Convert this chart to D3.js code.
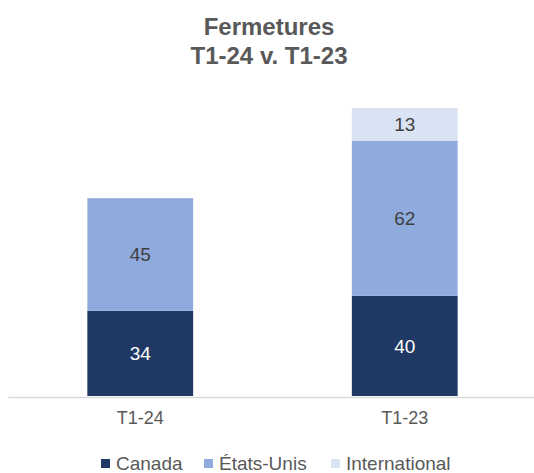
<!DOCTYPE html>
<html>
<head>
<meta charset="utf-8">
<script src="https://cdn.jsdelivr.net/npm/d3@7"></script>
<style>
  body { margin: 0; background: #fff; }
  text { font-family: Arial, "Liberation Sans", sans-serif; }
</style>
</head>
<body>
<div id="chart"></div>
<script>
// data
const categories = ["T1-24", "T1-23"];
const seriesNames = ["Canada", "États-Unis", "International"];
const canada = [34, 40];
const etatsUnis = [45, 62];
const international = [null, 13];

const colors = ["#1f3864", "#8faadc", "#dae3f3"];
const labelColors = ["#ffffff", "#404040", "#404040"];

const width = 534, height = 473;

// table for the stack
const rows = categories.map((c, i) => ({
  cat: c,
  "Canada": canada[i] || 0,
  "États-Unis": etatsUnis[i] || 0,
  "International": international[i] || 0
}));

const stack = d3.stack().keys(seriesNames)(rows);

const svg = d3.select("#chart")
  .append("svg")
  .attr("width", width)
  .attr("height", height);

// title
svg.append("text")
  .attr("x", width / 2 + 2)
  .attr("y", 35)
  .attr("text-anchor", "middle")
  .style("font-size", "24px")
  .style("font-weight", "bold")
  .style("fill", "#595959")
  .text("Fermetures");
svg.append("text")
  .attr("x", width / 2 + 2)
  .attr("y", 64)
  .attr("text-anchor", "middle")
  .style("font-size", "24px")
  .style("font-weight", "bold")
  .style("fill", "#595959")
  .text("T1-24 v. T1-23");

// scales
const x = d3.scaleBand()
  .domain(categories)
  .range([8, 537])
  .paddingInner(0.6)
  .paddingOuter(0.3);

const y = d3.scaleLinear()
  .domain([0, 115])
  .range([396, 108]);

// bars
const layers = svg.selectAll(".layer")
  .data(stack)
  .join("g")
  .attr("class", "layer")
  .attr("fill", (d, i) => colors[i]);

layers.selectAll("rect")
  .data(d => d.filter(p => p[1] - p[0] > 0))
  .join("rect")
  .attr("x", d => x(d.data.cat))
  .attr("width", x.bandwidth())
  .attr("y", d => y(d[1]))
  .attr("height", d => y(d[0]) - y(d[1]));

// data labels
stack.forEach((s, i) => {
  svg.append("g")
    .selectAll("text")
    .data(s.filter(p => p[1] - p[0] > 0))
    .join("text")
    .attr("x", d => x(d.data.cat) + x.bandwidth() / 2)
    .attr("y", d => (y(d[0]) + y(d[1])) / 2)
    .attr("dy", "0.36em")
    .attr("text-anchor", "middle")
    .style("font-size", "19px")
    .style("fill", labelColors[i])
    .text(d => d[1] - d[0]);
});

// x axis
const xAxis = svg.append("g")
  .attr("transform", "translate(0,397)")
  .call(d3.axisBottom(x).tickSize(0).tickSizeOuter(0).tickPadding(14));
xAxis.select(".domain")
  .attr("stroke", "#d9d9d9")
  .attr("stroke-width", 1.5);
xAxis.selectAll("text")
  .style("font-size", "18px")
  .style("fill", "#595959")
  .style("font-family", "Arial, 'Liberation Sans', sans-serif");

// legend
const legendX = [101, 204, 331];
const legend = svg.append("g")
  .selectAll("g")
  .data(seriesNames)
  .join("g")
  .attr("transform", (d, i) => `translate(${legendX[i]},459)`);
legend.append("rect")
  .attr("width", 9)
  .attr("height", 9)
  .attr("fill", (d, i) => colors[i]);
legend.append("text")
  .attr("x", 15)
  .attr("y", 11)
  .style("font-size", "19px")
  .style("fill", "#595959")
  .text(d => d);
</script>
</body>
</html>
